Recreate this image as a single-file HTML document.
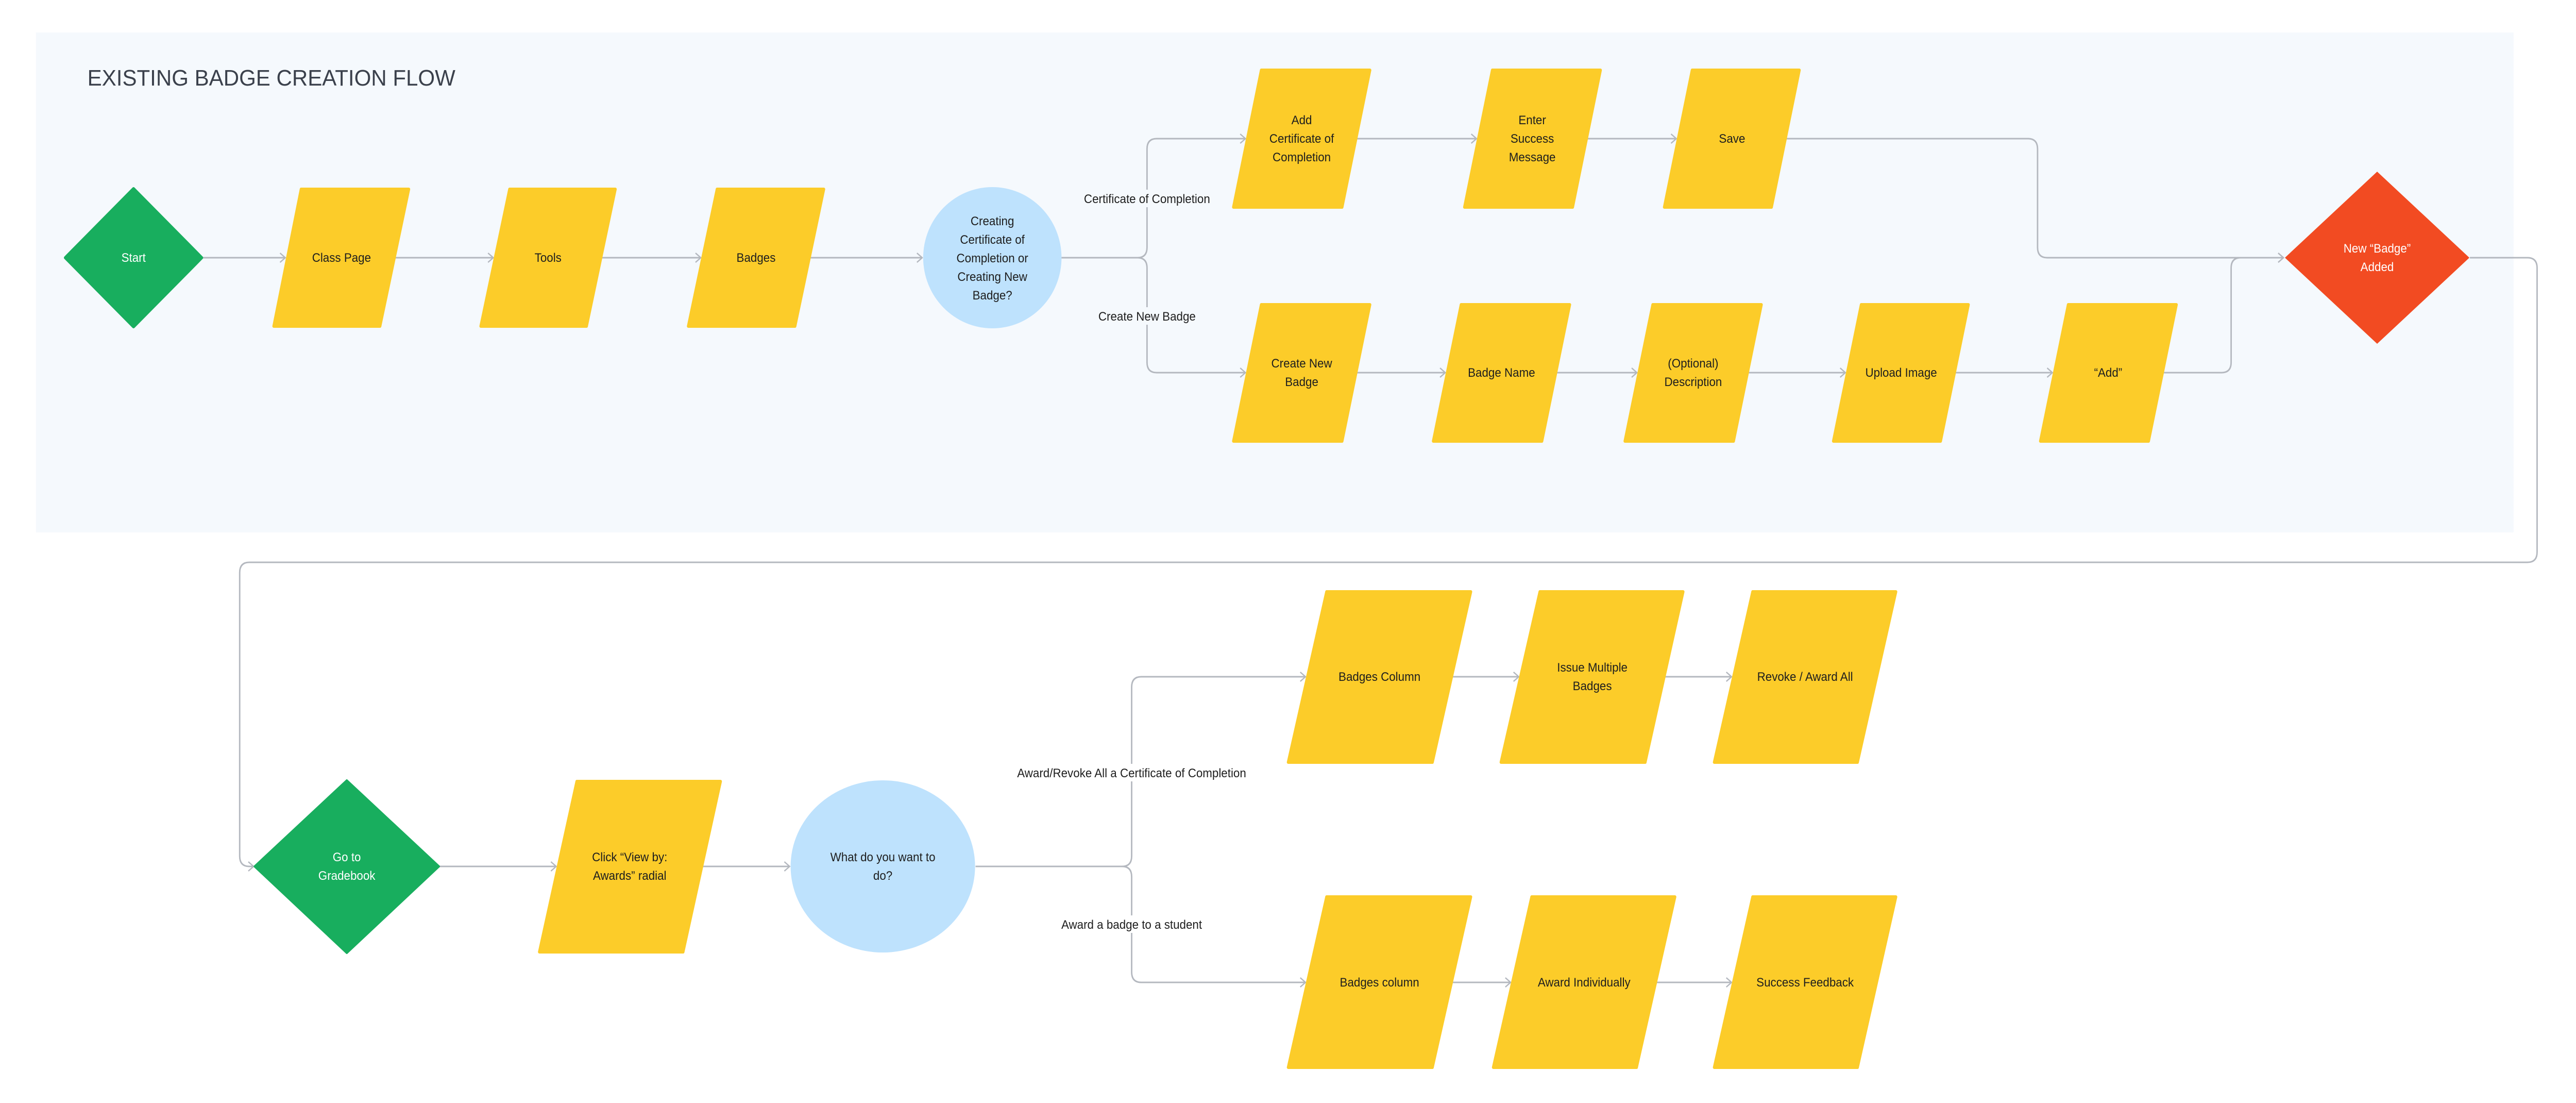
<!DOCTYPE html>
<html><head><meta charset="utf-8"><style>
html,body{margin:0;padding:0;background:#fff;width:100%;height:100%;overflow:hidden;}
svg{display:block;width:100vw;height:100vh;}
text{font-family:"Liberation Sans",sans-serif;font-size:24px;fill:#1e1e1e;text-anchor:middle;}
.w{fill:#fff;}
.ln{fill:none;stroke:#b4b8bf;stroke-width:3;}
.y{fill:#fccc29;stroke:#fccc29;stroke-width:6;stroke-linejoin:round;}
</style></head><body>
<svg viewBox="0 0 5363 2140" preserveAspectRatio="none" xmlns="http://www.w3.org/2000/svg">
<defs>
<marker id="a" markerWidth="20" markerHeight="24" refX="15" refY="12" orient="auto" markerUnits="userSpaceOnUse">
<path d="M4,3 L15,12 L4,21" fill="none" stroke="#b4b8bf" stroke-width="2.5"/>
</marker>
</defs>
<rect x="75" y="63" width="5158" height="970" fill="#f5f9fd"/>
<text x="182" y="166" style="font-size:44px;fill:#3b414c;text-anchor:start" textLength="766" lengthAdjust="spacingAndGlyphs">EXISTING BADGE CREATION FLOW</text>

<path class="ln" d="M422,500H594" marker-end="url(#a)"/>
<path class="ln" d="M823,500H1027" marker-end="url(#a)"/>
<path class="ln" d="M1253,500H1459" marker-end="url(#a)"/>
<path class="ln" d="M1687,500H1920" marker-end="url(#a)"/>
<path class="ln" d="M2209,500H2368 Q2388,500 2388,480 V289 Q2388,269 2408,269 H2593" marker-end="url(#a)"/>
<path class="ln" d="M2368,500 Q2388,500 2388,520 V703 Q2388,723 2408,723 H2593" marker-end="url(#a)"/>
<path class="ln" d="M2825,269H3074" marker-end="url(#a)"/>
<path class="ln" d="M3305,269H3490" marker-end="url(#a)"/>
<path class="ln" d="M3719,269H4222 Q4242,269 4242,289 V480 Q4242,500 4262,500 H4754" marker-end="url(#a)"/>
<path class="ln" d="M2825,723H3009" marker-end="url(#a)"/>
<path class="ln" d="M3241,723H3408" marker-end="url(#a)"/>
<path class="ln" d="M3640,723H3842" marker-end="url(#a)"/>
<path class="ln" d="M4071,723H4273" marker-end="url(#a)"/>
<path class="ln" d="M4504,723H4625 Q4645,723 4645,703 V520 Q4645,500 4665,500 H4754" marker-end="url(#a)"/>
<path class="ln" d="M5142,500H5262 Q5282,500 5282,520 V1071 Q5282,1091 5262,1091 H519 Q499,1091 499,1111 V1661 Q499,1681 519,1681 H528" marker-end="url(#a)"/>

<rect x="2240" y="368" width="296" height="34" fill="#f5f9fd"/>
<text x="2388" y="394">Certificate of Completion</text>
<rect x="2275" y="596" width="226" height="34" fill="#f5f9fd"/>
<text x="2388" y="622">Create New Badge</text>

<polygon points="278,366 420,500 278,634 136,500" fill="#18ae5e" stroke="#18ae5e" stroke-width="6" stroke-linejoin="round"/>
<text class="w" x="278" y="508">Start</text>
<polygon class="y" points="627,367 851,367 791,633 570,633"/><text x="711" y="508">Class Page</text>
<polygon class="y" points="1061,367 1281,367 1221,633 1001,633"/><text x="1141" y="508">Tools</text>
<polygon class="y" points="1493,367 1715,367 1655,633 1433,633"/><text x="1574" y="508">Badges</text>
<ellipse cx="2066" cy="500" rx="144" ry="137" fill="#bee2fd"/>
<text x="2066" y="437">Creating</text><text x="2066" y="473">Certificate of</text><text x="2066" y="509">Completion or</text><text x="2066" y="545">Creating New</text><text x="2066" y="581">Badge?</text>

<polygon class="y" points="2626,136 2852,136 2794,402 2568,402"/>
<text x="2710" y="241">Add</text><text x="2710" y="277">Certificate of</text><text x="2710" y="313">Completion</text>
<polygon class="y" points="3107,136 3332,136 3274,402 3049,402"/>
<text x="3190" y="241">Enter</text><text x="3190" y="277">Success</text><text x="3190" y="313">Message</text>
<polygon class="y" points="3523,136 3746,136 3688,402 3465,402"/><text x="3606" y="277">Save</text>

<polygon class="y" points="2626,591 2852,591 2794,856 2568,856"/>
<text x="2710" y="713">Create New</text><text x="2710" y="749">Badge</text>
<polygon class="y" points="3042,591 3268,591 3210,856 2984,856"/><text x="3126" y="731">Badge Name</text>
<polygon class="y" points="3441,591 3667,591 3609,856 3383,856"/>
<text x="3525" y="713">(Optional)</text><text x="3525" y="749">Description</text>
<polygon class="y" points="3875,591 4098,591 4040,856 3817,856"/><text x="3958" y="731">Upload Image</text>
<polygon class="y" points="4306,591 4531,591 4473,856 4248,856"/><text x="4389" y="731">“Add”</text>

<polygon points="4949,333 5141,500 4949,667 4757,500" fill="#f24b22"/>
<text class="w" x="4949" y="490">New “Badge”</text><text class="w" x="4949" y="526">Added</text>

<path class="ln" d="M914,1681H1158" marker-end="url(#a)"/>
<path class="ln" d="M1461,1681H1644" marker-end="url(#a)"/>
<path class="ln" d="M2031,1681H2336 Q2356,1681 2356,1661 V1333 Q2356,1313 2376,1313 H2718" marker-end="url(#a)"/>
<path class="ln" d="M2336,1681 Q2356,1681 2356,1701 V1886 Q2356,1906 2376,1906 H2718" marker-end="url(#a)"/>
<path class="ln" d="M3024,1313H3162" marker-end="url(#a)"/>
<path class="ln" d="M3466,1313H3605" marker-end="url(#a)"/>
<path class="ln" d="M3024,1906H3145" marker-end="url(#a)"/>
<path class="ln" d="M3449,1906H3605" marker-end="url(#a)"/>

<rect x="2098" y="1482" width="516" height="34" fill="#fff"/>
<text x="2356" y="1508">Award/Revoke All a Certificate of Completion</text>
<rect x="2196" y="1776" width="320" height="34" fill="#fff"/>
<text x="2356" y="1802">Award a badge to a student</text>

<polygon points="722,1514 914,1681 722,1849 530,1681" fill="#18ae5e" stroke="#18ae5e" stroke-width="4" stroke-linejoin="round"/>
<text class="w" x="722" y="1671">Go to</text><text class="w" x="722" y="1707">Gradebook</text>
<polygon class="y" points="1201,1516 1500,1516 1422,1847 1123,1847"/>
<text x="1311" y="1671">Click “View by:</text><text x="1311" y="1707">Awards” radial</text>
<ellipse cx="1838" cy="1681" rx="192" ry="167" fill="#bee2fd"/>
<text x="1838" y="1671">What do you want to</text><text x="1838" y="1707">do?</text>

<polygon class="y" points="2762,1148 3062,1148 2982,1479 2682,1479"/><text x="2872" y="1321">Badges Column</text>
<polygon class="y" points="3206,1148 3504,1148 3425,1479 3125,1479"/>
<text x="3315" y="1303">Issue Multiple</text><text x="3315" y="1339">Badges</text>
<polygon class="y" points="3649,1148 3947,1148 3867,1479 3569,1479"/><text x="3758" y="1321">Revoke / Award All</text>

<polygon class="y" points="2762,1740 3062,1740 2982,2071 2682,2071"/><text x="2872" y="1914">Badges column</text>
<polygon class="y" points="3189,1740 3487,1740 3407,2071 3109,2071"/><text x="3298" y="1914">Award Individually</text>
<polygon class="y" points="3649,1740 3947,1740 3867,2071 3569,2071"/><text x="3758" y="1914">Success Feedback</text>
</svg>
</body></html>
